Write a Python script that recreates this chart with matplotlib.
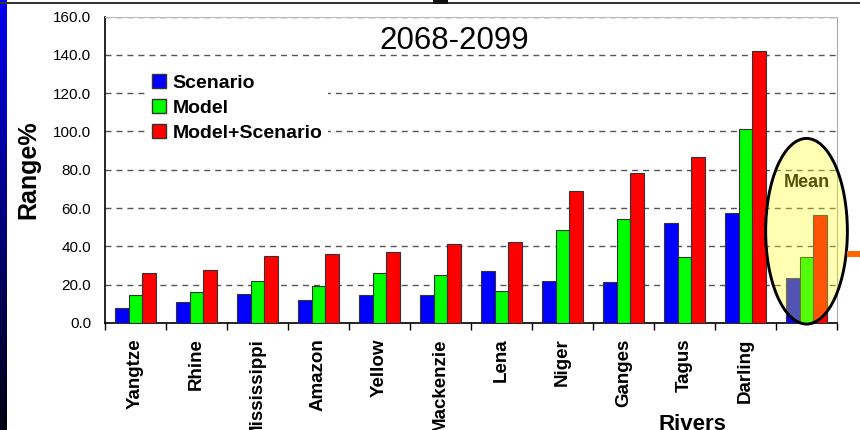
import numpy as np
import matplotlib
matplotlib.use("Agg")
import matplotlib.pyplot as plt
from matplotlib.patches import Ellipse, Patch, Rectangle

plt.rcParams['font.family'] = ['Liberation Sans', 'DejaVu Sans']

# values (Range %, period 2068-2099)
rivers = ["Yangtze", "Rhine", "Mississippi", "Amazon", "Yellow", "Mackenzie",
          "Lena", "Niger", "Ganges", "Tagus", "Darling", ""]
scenario = [8.0, 11.2, 15.2, 11.9, 14.5, 14.5, 26.9, 21.8, 21.5, 52.2, 57.4, 23.3]
model = [14.8, 16.1, 22.0, 19.5, 26.0, 25.0, 16.9, 48.5, 54.3, 34.4, 101.3, 34.4]
model_scenario = [26.3, 27.6, 34.9, 35.8, 37.0, 41.2, 42.4, 69.1, 78.2, 86.8, 141.9, 56.4]
yticks = [0, 20, 40, 60, 80, 100, 120, 140, 160]


def plot_ranges():
    fig = plt.figure(figsize=(8.6, 4.3), dpi=100)
    ax = fig.add_axes([105 / 860, 1 - 323 / 430, 732 / 860, 306.5 / 430])

    x = np.arange(len(rivers))
    w = 0.228
    ax.bar(x - w, scenario, w, color="#0000ff", edgecolor="#333333", linewidth=0.8, zorder=3)
    ax.bar(x, model, w, color="#00ff00", edgecolor="#333333", linewidth=0.8, zorder=3)
    ax.bar(x + w, model_scenario, w, color="#ff0000", edgecolor="#333333", linewidth=0.8, zorder=3)

    ax.set_xlim(-0.5, len(rivers) - 0.5)
    ax.set_ylim(0, 160)
    ax.set_yticks(yticks)
    ax.set_yticklabels([f"{v:.1f}" for v in yticks], fontsize=11)
    ax.tick_params(axis="y", length=0, pad=10)
    ax.yaxis.grid(True, linestyle=(0, (4.3, 3.6)), color="#555555", linewidth=1, zorder=1)

    # ticks at category boundaries, labels at centres
    ax.set_xticks(np.arange(len(rivers) + 1) - 0.5)
    ax.set_xticklabels([])
    ax.tick_params(axis="x", which="major", length=5, width=1, direction="out")
    ax.set_xticks(x, minor=True)
    ax.set_xticklabels(rivers, minor=True, rotation=90, fontsize=13.5, fontweight="bold")
    ax.tick_params(axis="x", which="minor", length=0, pad=11)

    ax.spines["left"].set_linewidth(1.2)
    ax.spines["bottom"].set_linewidth(1.2)
    ax.spines["top"].set_color("#bbbbbb")
    ax.spines["right"].set_color("#aaaaaa")

    ax.set_ylabel("Range%", fontsize=18, fontweight="bold", labelpad=9)
    ax.text(0.477, 0.968, "2068-2099", fontsize=22.5, ha="center", va="top",
            transform=ax.transAxes, zorder=6)
    fig.text(692 / 860, 1 - 414 / 430, "Rivers", fontsize=16, fontweight="bold",
             ha="center", va="top")

    handles = [Patch(facecolor="#0000ff", edgecolor="#333333", label="Scenario"),
               Patch(facecolor="#00ff00", edgecolor="#333333", label="Model"),
               Patch(facecolor="#ff0000", edgecolor="#333333", label="Model+Scenario")]
    leg = ax.legend(handles=handles, loc="upper left", bbox_to_anchor=(146 / 860, 1 - 68 / 430),
                    bbox_transform=fig.transFigure, frameon=True, prop={"size": 14, "weight": "bold"},
                    handlelength=0.72, handleheight=0.72, handletextpad=0.35, labelspacing=0.38,
                    borderpad=0.3, borderaxespad=0, fancybox=False, framealpha=1)
    leg.get_frame().set_facecolor("white")
    leg.get_frame().set_edgecolor("none")

    # highlighted mean group
    mean_x = len(rivers) - 1
    ax.text(mean_x, 73.5, "Mean", ha="center", va="center", fontsize=13,
            fontweight="bold", zorder=3.5)
    ax.add_patch(Ellipse((mean_x, 47.9), 1.34, 96.9, facecolor=(1, 1, 0.1), alpha=0.33,
                         edgecolor="none", zorder=4, clip_on=False))
    ax.add_patch(Ellipse((mean_x, 47.9), 1.34, 96.9, facecolor="none", edgecolor="black",
                         linewidth=2.1, zorder=5, clip_on=False))

    # slide decorations
    strip = fig.add_axes([0, 0, 7 / 860, 1])
    grad = np.linspace(0, 1, 256).reshape(-1, 1)
    strip.imshow(grad, aspect="auto", cmap=matplotlib.colors.LinearSegmentedColormap.from_list(
        "s", ["#0000f0", "#000010"]))
    strip.axis("off")
    fig.patches.append(Rectangle((0, 1 - 4 / 430), 1, 2 / 430, transform=fig.transFigure,
                                 facecolor="#333333", edgecolor="none"))
    fig.patches.append(Rectangle((433 / 860, 1 - 4 / 430), 15 / 860, 4 / 430,
                                 transform=fig.transFigure, facecolor="#111111", edgecolor="none"))
    fig.patches.append(Rectangle((847 / 860, 1 - 257 / 430), 13 / 860, 6 / 430,
                                 transform=fig.transFigure, facecolor="#ff6600", edgecolor="none"))

    fig.savefig("out.png", dpi=100)


def main():
    plot_ranges()


if __name__ == '__main__':
    main()
